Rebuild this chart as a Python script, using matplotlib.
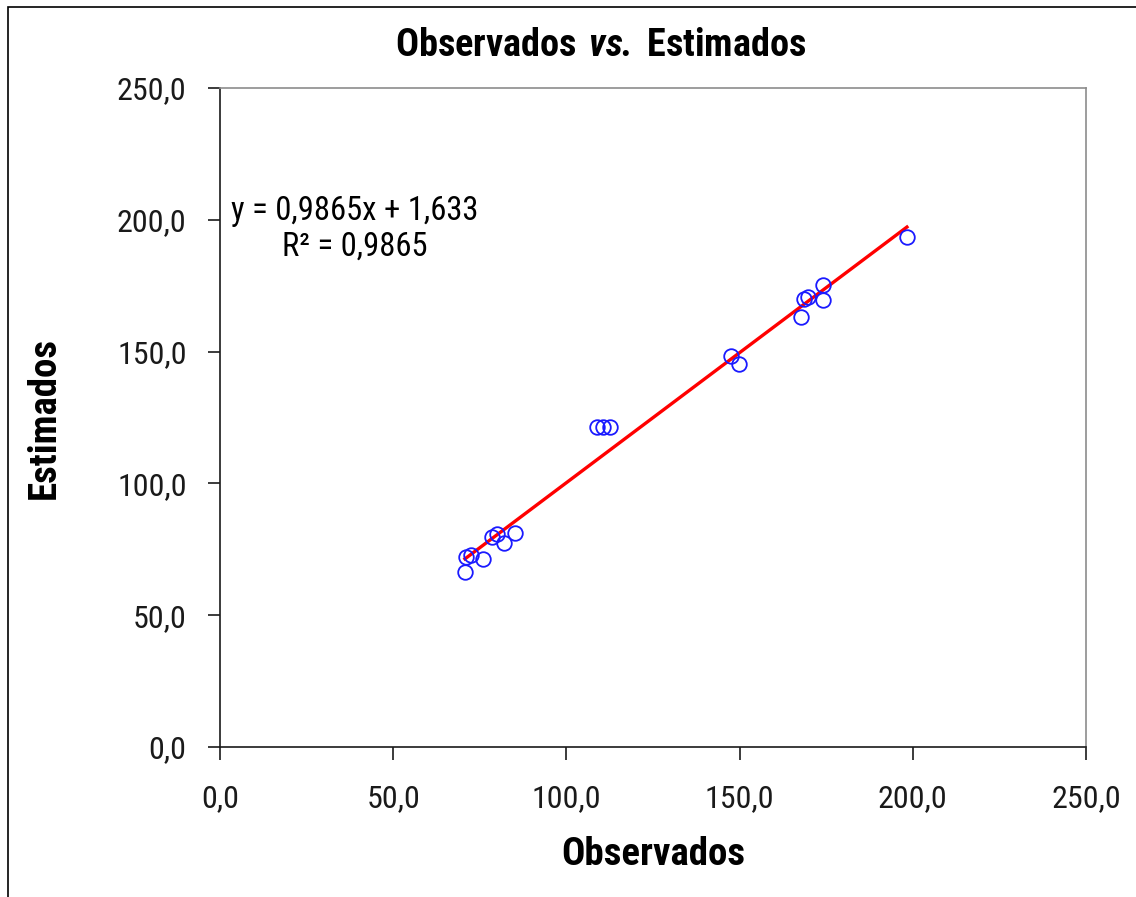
import matplotlib
matplotlib.use("Agg")
import matplotlib.pyplot as plt
import matplotlib.patches as patches
from matplotlib.ticker import FuncFormatter
import numpy as np

FONT = 'Roboto Condensed'
plt.rcParams['font.family'] = [FONT, 'DejaVu Sans']
plt.rcParams['mathtext.fontset'] = 'custom'
plt.rcParams['mathtext.bf'] = FONT + ':bold'
plt.rcParams['mathtext.bfit'] = FONT + ':italic:bold'
plt.rcParams['mathtext.rm'] = FONT

observados = [70.7, 71.0, 72.5, 75.9, 78.5, 80.0, 82.0, 85.2,
              108.8, 110.6, 112.6, 147.5, 149.8,
              167.7, 168.6, 169.7, 174.1, 174.1, 198.3]
estimados = [66.4, 72.0, 72.8, 71.3, 79.5, 80.8, 77.5, 81.0,
             121.4, 121.4, 121.4, 148.3, 145.3,
             163.1, 170.0, 170.7, 175.3, 169.6, 193.5]

# trendline as printed on the chart
slope = 0.9865
intercept = 1.633
r2 = 0.9865

ticks = [0, 50, 100, 150, 200, 250]

fig = plt.figure(figsize=(11.36, 8.97), dpi=100)
ax = fig.add_axes([0.1937, 0.1672, 0.7623, 0.7347])

# outer chart border
fig.patches.append(patches.Rectangle((0.007, -0.01), 1.1, 1.002, transform=fig.transFigure,
                                     fill=False, edgecolor='black', linewidth=1.2))

ax.plot(observados, estimados, linestyle='none', marker='o', markersize=10.5,
        markerfacecolor='none', markeredgecolor='#1a1aff', markeredgewidth=1.3, zorder=3)

xs = np.array([min(observados), max(observados)])
ax.plot(xs, slope * xs + intercept, color='#ff0000', linewidth=2.4, zorder=2)

ax.set_xlim(0, 250)
ax.set_ylim(0, 250)
ax.set_xticks(ticks)
ax.set_yticks(ticks)
fmt = FuncFormatter(lambda v, p: ('%.1f' % v).replace('.', ','))
ax.xaxis.set_major_formatter(fmt)
ax.yaxis.set_major_formatter(fmt)
ax.tick_params(direction='out', length=9, width=1.2, labelsize=23, colors='#1a1a1a')
ax.tick_params(axis='y', pad=15)
ax.tick_params(axis='x', pad=18)

for s in ['top', 'right']:
    ax.spines[s].set_color('#8c8c8c')
    ax.spines[s].set_linewidth(1.2)
for s in ['left', 'bottom']:
    ax.spines[s].set_color('#1a1a1a')
    ax.spines[s].set_linewidth(1.2)

ax.text(39, 203.5, 'y = %s' % ('%.4fx + %.3f' % (slope, intercept)).replace('.', ','),
        ha='center', va='center', fontsize=23.5)
ax.text(39, 190, 'R² = %s' % ('%.4f' % r2).replace('.', ','),
        ha='center', va='center', fontsize=23.5)

fig.text(0.529, 0.949, r'$\mathbf{Observados}\ \mathbfit{vs.}\,\mathbf{Estimados}$',
         ha='center', va='center', fontsize=27.5)
ax.set_xlabel('Observados', fontsize=28, fontweight='bold', labelpad=16)
ax.set_ylabel('Estimados', fontsize=28, fontweight='bold', labelpad=39)

fig.savefig('out.png', dpi=100)
